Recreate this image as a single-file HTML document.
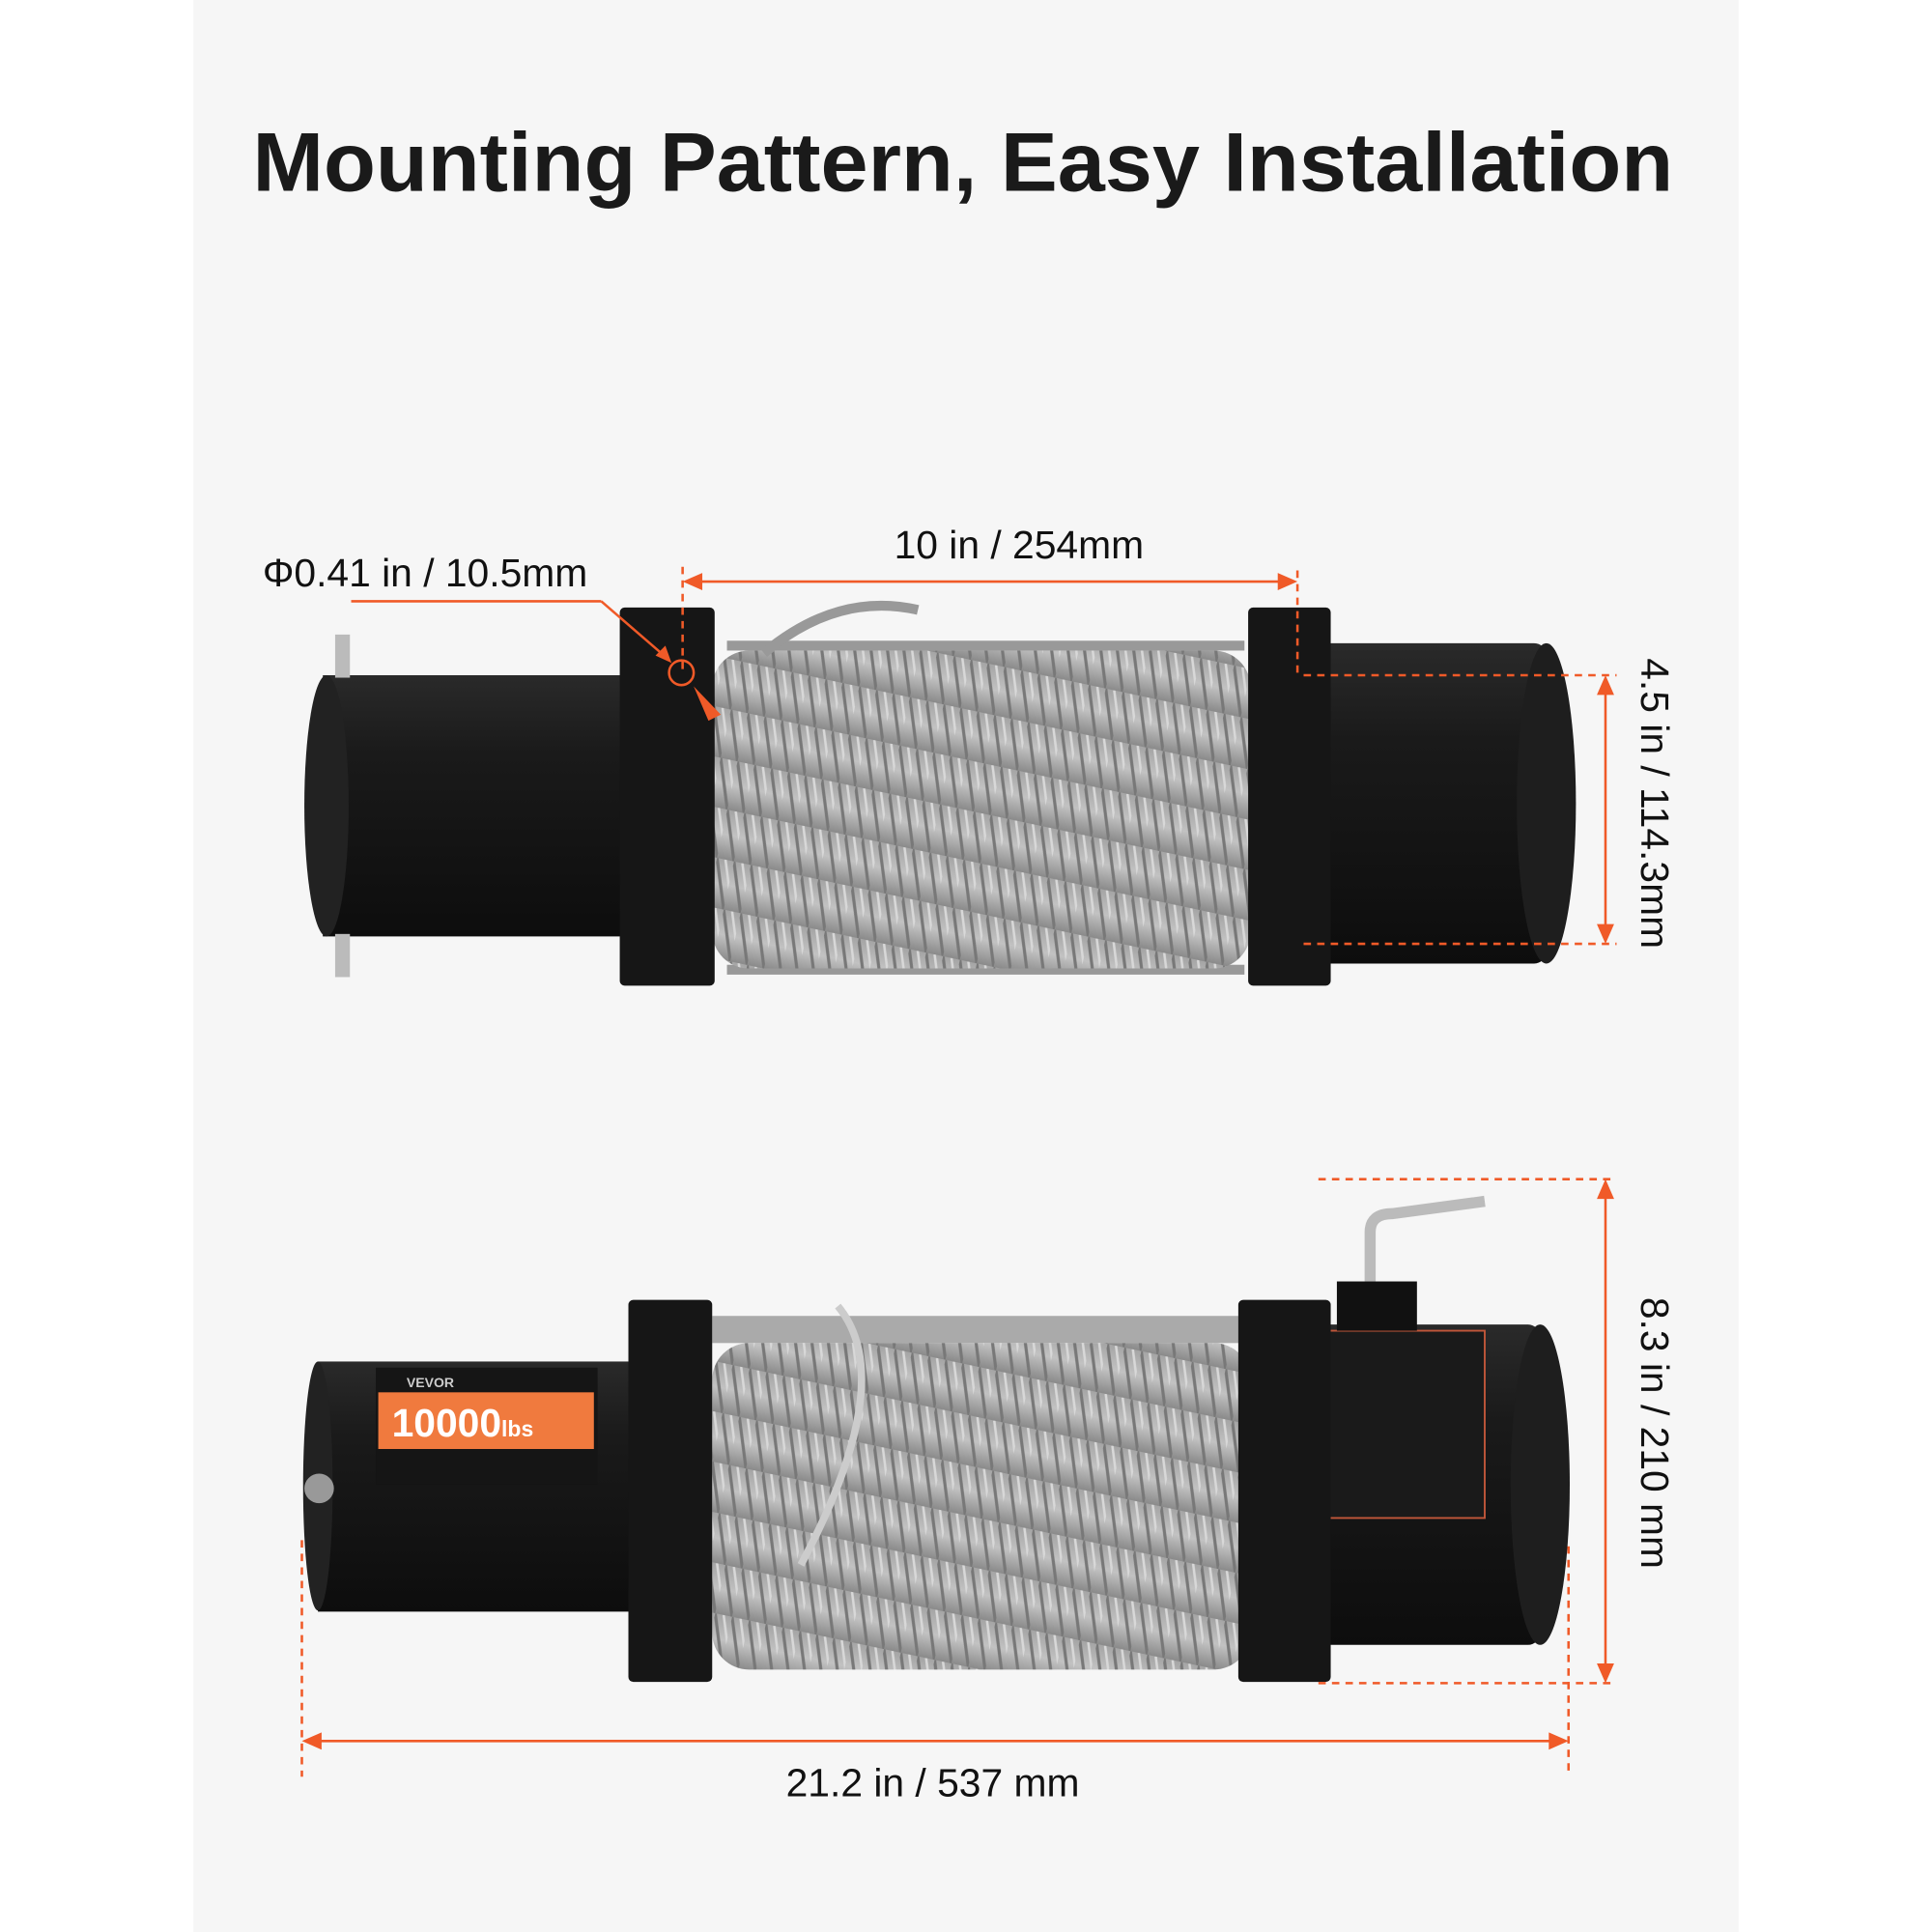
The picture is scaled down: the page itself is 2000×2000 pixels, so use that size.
<!DOCTYPE html>
<html><head><meta charset="utf-8"><style>
html,body{margin:0;padding:0;background:#fff;}
svg{display:block;}
text{font-family:"Liberation Sans",sans-serif;}
</style></head><body>
<svg width="2000" height="2000" viewBox="0 0 1568 1568" xmlns="http://www.w3.org/2000/svg">
<defs>
<linearGradient id="cyl" x1="0" y1="0" x2="0" y2="1">
<stop offset="0" stop-color="#2a2a2a"/><stop offset="0.3" stop-color="#1a1a1a"/><stop offset="1" stop-color="#0d0d0d"/></linearGradient>
<linearGradient id="rope" x1="0" y1="0" x2="0" y2="1">
<stop offset="0" stop-color="#a5a5a5"/><stop offset="0.5" stop-color="#c2c2c2"/><stop offset="1" stop-color="#8a8a8a"/></linearGradient>
<pattern id="strand" width="14" height="40" patternUnits="userSpaceOnUse" patternTransform="rotate(12)">
<rect width="14" height="40" fill="url(#rope)"/>
<path d="M0 0 L14 40" stroke="#787878" stroke-width="2.5"/>
<path d="M7 0 L21 40" stroke="#d8d8d8" stroke-width="2"/>
</pattern>
</defs>
<rect width="1568" height="1568" fill="#fff"/>
<rect x="157" y="0" width="1254" height="1568" fill="#f6f6f6"/>
<text x="205" y="155" textLength="1153" lengthAdjust="spacingAndGlyphs" font-size="68" font-weight="bold" fill="#1a1a1a">Mounting Pattern, Easy  Installation</text>

<!-- TOP WINCH -->
<rect x="590" y="520" width="420" height="8" fill="#999"/>
<rect x="590" y="783" width="420" height="8" fill="#999"/>
<rect x="578" y="528" width="437" height="258" rx="30" fill="url(#strand)"/>
<rect x="262" y="548" width="268" height="212" fill="url(#cyl)"/>
<ellipse cx="265" cy="654" rx="18" ry="106" fill="#222"/>
<rect x="272" y="515" width="12" height="35" fill="#bbb"/>
<rect x="272" y="758" width="12" height="35" fill="#bbb"/>
<rect x="503" y="493" width="77" height="307" rx="4" fill="#161616"/>
<rect x="1050" y="522" width="205" height="260" rx="10" fill="url(#cyl)"/>
<ellipse cx="1255" cy="652" rx="24" ry="130" fill="#1e1e1e"/>
<rect x="1013" y="493" width="67" height="307" rx="4" fill="#161616"/>
<path d="M620 530 Q680 480 745 495" stroke="#999" stroke-width="8" fill="none"/>

<!-- BOTTOM WINCH -->
<rect x="578" y="1068" width="430" height="22" fill="#aaa"/>
<rect x="578" y="1090" width="437" height="265" rx="30" fill="url(#strand)"/>
<rect x="258" y="1105" width="272" height="203" fill="url(#cyl)"/>
<ellipse cx="258" cy="1206" rx="12" ry="101" fill="#222"/>
<rect x="305" y="1110" width="180" height="95" fill="#151515"/>
<text x="330" y="1126" font-size="11" font-weight="bold" fill="#ccc">VEVOR</text>
<rect x="307" y="1130" width="175" height="46" fill="#f07a3e"/>
<text x="318" y="1166" font-size="32" font-weight="bold" fill="#fff">10000<tspan font-size="18">lbs</tspan></text>
<circle cx="259" cy="1208" r="12" fill="#999"/>
<rect x="510" y="1055" width="68" height="310" rx="4" fill="#161616"/>
<rect x="1055" y="1075" width="195" height="260" rx="10" fill="url(#cyl)"/>
<ellipse cx="1250" cy="1205" rx="24" ry="130" fill="#1e1e1e"/>
<rect x="1065" y="1080" width="140" height="152" fill="#1a1a1a" stroke="#c0563a" stroke-width="1.5"/>
<rect x="1085" y="1040" width="65" height="40" fill="#111"/>
<path d="M1112 1040 L1112 1000 Q1112 985 1130 985 L1205 975" stroke="#bbb" stroke-width="9" fill="none"/>
<rect x="1005" y="1055" width="75" height="310" rx="4" fill="#161616"/>
<path d="M680 1060 Q730 1120 650 1270" stroke="#ccc" stroke-width="6" fill="none"/>

<!-- DIMENSIONS -->
<g stroke="#f05a28" stroke-width="2" fill="none">
<line x1="554" y1="460" x2="554" y2="545" stroke-dasharray="6,5"/>
<line x1="1053" y1="463" x2="1053" y2="548" stroke-dasharray="6,5"/>
<line x1="560" y1="472" x2="1047" y2="472"/>
<line x1="1058" y1="548" x2="1312" y2="548" stroke-dasharray="6,5"/>
<line x1="1058" y1="766" x2="1312" y2="766" stroke-dasharray="6,5"/>
<line x1="1303" y1="555" x2="1303" y2="760"/>
<line x1="285" y1="488" x2="488" y2="488"/>
<line x1="488" y1="488" x2="540" y2="533"/>
<circle cx="553" cy="546" r="10"/>
<line x1="1070" y1="957" x2="1312" y2="957" stroke-dasharray="6,5"/>
<line x1="1070" y1="1366" x2="1312" y2="1366" stroke-dasharray="6,5"/>
<line x1="1303" y1="964" x2="1303" y2="1360"/>
<line x1="245" y1="1250" x2="245" y2="1442" stroke-dasharray="6,5"/>
<line x1="1273" y1="1255" x2="1273" y2="1442" stroke-dasharray="6,5"/>
<line x1="252" y1="1413" x2="1266" y2="1413"/>
</g>
<g fill="#f05a28">
<polygon points="554,472 570,465 570,479"/>
<polygon points="1053,472 1037,465 1037,479"/>
<polygon points="1303,548 1296,564 1310,564"/>
<polygon points="1303,766 1296,750 1310,750"/>
<polygon points="545,538 532,532 540,524"/>
<polygon points="563,557 585,580 575,585"/>
<polygon points="1303,957 1296,973 1310,973"/>
<polygon points="1303,1366 1296,1350 1310,1350"/>
<polygon points="245,1413 261,1406 261,1420"/>
<polygon points="1273,1413 1257,1406 1257,1420"/>
</g>
<text x="345" y="476" text-anchor="middle" font-size="32" fill="#111">Φ0.41 in / 10.5mm</text>
<text x="827" y="453" text-anchor="middle" font-size="32" fill="#111">10 in / 254mm</text>
<text x="757" y="1458" text-anchor="middle" font-size="32" fill="#111">21.2 in / 537 mm</text>
<text transform="translate(1332,652) rotate(90)" text-anchor="middle" font-size="32" fill="#111">4.5 in / 114.3mm</text>
<text transform="translate(1332,1163) rotate(90)" text-anchor="middle" font-size="32" fill="#111">8.3 in / 210 mm</text>
</svg>
</body></html>
